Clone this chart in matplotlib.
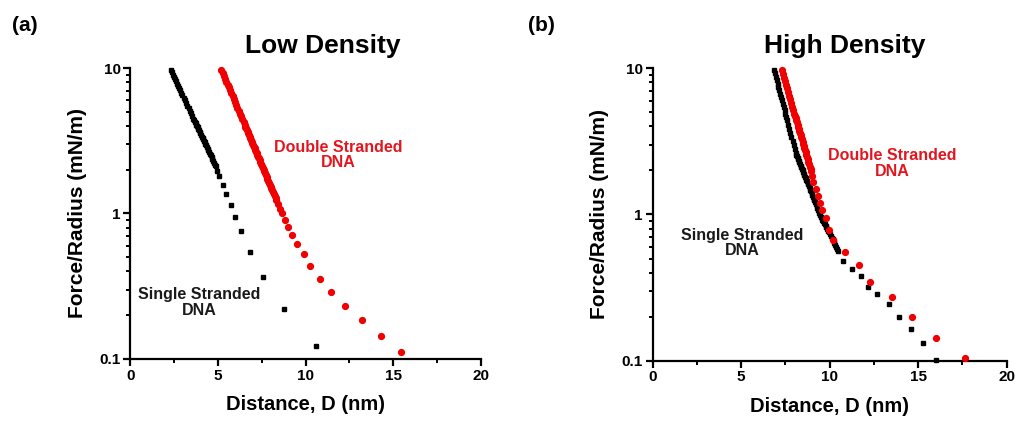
import matplotlib
matplotlib.use("Agg")
import matplotlib.pyplot as plt
from matplotlib.ticker import FixedLocator, NullFormatter, LogLocator

plt.rcParams['font.family'] = ['Liberation Sans', 'DejaVu Sans']
plt.rcParams['font.weight'] = 'bold'

# ---------------- data ----------------
# Panel (a) Low Density
ss_low_x = [2.30, 2.36, 2.42, 2.48, 2.54, 2.60, 2.66, 2.72, 2.78, 2.84, 2.90, 2.97,
            3.04, 3.11, 3.18, 3.25, 3.32, 3.39, 3.46, 3.53, 3.60, 3.64, 3.68, 3.72,
            3.76, 3.80, 3.84, 3.88, 3.92, 3.96, 4.00, 4.04, 4.08, 4.12, 4.16, 4.20,
            4.24, 4.28, 4.32, 4.365, 4.41, 4.455, 4.50, 4.545, 4.59, 4.635, 4.68,
            4.73, 4.78, 4.83, 4.88, 4.96,
            5.05, 5.26, 5.47, 5.75, 6.00, 6.34, 6.85, 7.56, 8.77, 10.62]
ss_low_y = [9.66, 9.33, 9.00, 8.69, 8.39, 8.09, 7.81, 7.54, 7.28, 7.03, 6.78, 6.50,
            6.25, 6.00, 5.75, 5.52, 5.30, 5.08, 4.88, 4.68, 4.49, 4.38, 4.28, 4.18,
            4.08, 3.99, 3.90, 3.81, 3.72, 3.63, 3.55, 3.46, 3.38, 3.30, 3.23, 3.15,
            3.08, 3.01, 2.94, 2.86, 2.79, 2.72, 2.64, 2.58, 2.51, 2.44, 2.38,
            2.31, 2.24, 2.17, 2.11, 1.96,
            1.82, 1.58, 1.37, 1.15, 0.95, 0.76, 0.544, 0.366, 0.221, 0.122]

ds_low_x = [5.20, 5.27, 5.34, 5.41, 5.48, 5.55, 5.62, 5.69, 5.76, 5.83, 5.90, 5.97,
            6.04, 6.11, 6.18, 6.25, 6.32, 6.39, 6.46, 6.53, 6.57, 6.61, 6.65, 6.69,
            6.73, 6.77, 6.81, 6.85, 6.89, 6.93, 6.97, 7.01, 7.05, 7.09, 7.13, 7.17,
            7.21, 7.25, 7.29, 7.33, 7.375, 7.42, 7.465, 7.51, 7.555, 7.60, 7.645,
            7.69, 7.735, 7.78, 7.825, 7.87, 7.915, 7.96, 8.005, 8.05, 8.095, 8.14,
            8.19, 8.24, 8.29, 8.34, 8.44, 8.54, 8.64,
            8.84, 9.00, 9.22, 9.53, 9.91, 10.24, 10.81, 11.43, 12.25, 13.24, 14.30, 15.46]
ds_low_y = [9.68, 9.25, 8.83, 8.43, 8.05, 7.69, 7.35, 7.02, 6.70, 6.40, 6.12, 5.85,
            5.58, 5.33, 5.09, 4.86, 4.65, 4.44, 4.24, 4.05, 3.94, 3.84, 3.74, 3.64,
            3.55, 3.46, 3.37, 3.28, 3.20, 3.11, 3.03, 2.95, 2.87, 2.80, 2.73, 2.66,
            2.59, 2.52, 2.45, 2.39, 2.32, 2.26, 2.19, 2.13, 2.07, 2.00, 1.95,
            1.89, 1.84, 1.78, 1.73, 1.68, 1.63, 1.58, 1.53, 1.49, 1.45, 1.41,
            1.36, 1.32, 1.27, 1.23, 1.16, 1.08, 1.01,
            0.90, 0.81, 0.71, 0.615, 0.53, 0.434, 0.356, 0.288, 0.230, 0.184, 0.143, 0.111]

# Panel (b) High Density
ss_high_x = [6.85, 6.90, 6.95, 7.00, 7.05, 7.10, 7.15, 7.20, 7.25, 7.30, 7.35, 7.40,
             7.45, 7.50, 7.55, 7.60, 7.66, 7.72, 7.78, 7.84, 7.90, 7.96, 8.02, 8.08,
             8.115, 8.15, 8.185, 8.22, 8.255, 8.29, 8.325, 8.36, 8.395, 8.43, 8.465,
             8.50, 8.535, 8.57, 8.605, 8.64, 8.675, 8.71, 8.745, 8.78, 8.82, 8.86,
             8.90, 8.94, 8.98, 9.02, 9.06, 9.10, 9.14, 9.18, 9.22, 9.26, 9.30, 9.34,
             9.38, 9.42, 9.46, 9.50, 9.545, 9.59, 9.635, 9.68, 9.725, 9.77, 9.815,
             9.86, 9.91, 9.96, 10.01, 10.06, 10.11, 10.16, 10.215, 10.27, 10.325,
             10.38, 10.435, 10.49,
             10.77, 11.28, 11.77, 12.18, 12.69, 13.37, 13.93, 14.59, 15.29, 16.00]
ss_high_y = [9.73, 9.23, 8.75, 8.30, 7.87, 7.46, 7.08, 6.71, 6.37, 6.04, 5.73, 5.43,
             5.15, 4.89, 4.63, 4.40, 4.12, 3.87, 3.63, 3.39, 3.18, 2.99, 2.81, 2.63,
             2.57, 2.51, 2.44, 2.38, 2.32, 2.27, 2.21, 2.16, 2.11, 2.06, 2.00,
             1.95, 1.90, 1.86, 1.81, 1.77, 1.73, 1.69, 1.65, 1.61, 1.56, 1.52,
             1.48, 1.44, 1.40, 1.36, 1.32, 1.28, 1.25, 1.21, 1.18, 1.15, 1.11, 1.08,
             1.05, 1.02, 0.993, 0.966, 0.943, 0.920, 0.898, 0.877, 0.856, 0.835, 0.815,
             0.796, 0.775, 0.754, 0.733, 0.713, 0.694, 0.676, 0.656, 0.637, 0.618,
             0.600, 0.582, 0.565,
             0.483, 0.426, 0.380, 0.320, 0.284, 0.243, 0.200, 0.165, 0.133, 0.101]

ds_high_x = [7.29, 7.35, 7.41, 7.47, 7.53, 7.59, 7.65, 7.71, 7.77, 7.83, 7.89, 7.95,
             8.01, 8.045, 8.08, 8.115, 8.15, 8.185, 8.22, 8.255, 8.29, 8.325, 8.36,
             8.395, 8.43, 8.465, 8.50, 8.535, 8.57, 8.605, 8.64, 8.68, 8.72, 8.76,
             8.80, 8.84, 8.88, 8.92, 8.96, 9.015,
             9.07, 9.23, 9.36, 9.46, 9.55, 9.79, 9.98, 10.20, 10.86, 11.65, 12.30,
             13.50, 14.63, 16.00, 17.64]
ds_high_y = [9.73, 9.16, 8.65, 8.17, 7.71, 7.28, 6.87, 6.49, 6.12, 5.78, 5.46, 5.15,
             4.86, 4.70, 4.55, 4.40, 4.26, 4.12, 3.98, 3.85, 3.72, 3.60, 3.48,
             3.37, 3.26, 3.15, 3.05, 2.95, 2.85, 2.76, 2.67, 2.57, 2.47, 2.38,
             2.29, 2.20, 2.12, 2.04, 1.97, 1.82,
             1.68, 1.49, 1.33, 1.19, 1.07, 0.94, 0.78, 0.67, 0.555, 0.450, 0.345,
             0.274, 0.200, 0.143, 0.104]

x_ticks = [0, 5, 10, 15, 20]
y_ticks = [0.1, 1, 10]
y_ticklabels = ["0.1", "1", "10"]
titles = ["Low Density", "High Density"]
panel_labels = ["(a)", "(b)"]
xlabel = "Distance, D (nm)"
ylabel = "Force/Radius (mN/m)"
ds_text = "Double Stranded\nDNA"
ss_text = "Single Stranded\nDNA"

RED = '#f00000'
RED_TXT = '#e3161f'
BLK = '#000000'

fig = plt.figure(figsize=(10.17, 4.25), dpi=100)
fig.patch.set_facecolor('white')

axA = fig.add_axes([0.1283, 0.1553, 0.3442, 0.6847])
axB = fig.add_axes([0.6418, 0.1513, 0.3481, 0.6880])


def style(ax):
    ax.set_yscale('log')
    ax.set_xlim(0, 20)
    ax.set_ylim(0.1, 10)
    for s in ['top', 'right']:
        ax.spines[s].set_visible(False)
    for s in ['left', 'bottom']:
        ax.spines[s].set_linewidth(1.6)
    ax.xaxis.set_major_locator(FixedLocator(x_ticks))
    ax.xaxis.set_minor_locator(FixedLocator([2.5, 7.5, 12.5, 17.5]))
    ax.yaxis.set_major_locator(FixedLocator(y_ticks))
    ax.set_yticklabels(y_ticklabels)
    ax.yaxis.set_minor_locator(LogLocator(base=10, subs=(2, 3, 4, 5, 6, 7, 8, 9)))
    ax.yaxis.set_minor_formatter(NullFormatter())
    ax.tick_params(which='major', direction='out', length=5, width=1.6,
                   labelsize=11, pad=2)
    ax.tick_params(which='minor', direction='out', length=3, width=1.4)
    for lab in ax.get_xticklabels() + ax.get_yticklabels():
        lab.set_fontweight('bold')
    ax.set_xlabel(xlabel, fontsize=14.5, fontweight='bold', labelpad=9)
    ax.set_ylabel(ylabel, fontsize=15, fontweight='bold', labelpad=9)


for ax in (axA, axB):
    style(ax)

MS_SQ = 3.5
MS_CI = 4.2

# Panel (a)
axA.plot(ss_low_x, ss_low_y, linestyle='none', marker='s', ms=MS_SQ,
         color=BLK, mec=BLK, clip_on=False, zorder=3)
axA.plot(ds_low_x, ds_low_y, linestyle='none', marker='o', ms=MS_CI,
         color=RED, mec=RED, clip_on=False, zorder=3)
axA.text(11.86, 2.53, ds_text, color=RED_TXT, fontsize=11.5, fontweight='bold',
         ha='center', va='center', linespacing=1.05)
axA.text(3.91, 0.245, ss_text, color='#1a1a1a', fontsize=11.5, fontweight='bold',
         ha='center', va='center', linespacing=1.05)

# Panel (b)
axB.plot(ss_high_x, ss_high_y, linestyle='none', marker='s', ms=MS_SQ,
         color=BLK, mec=BLK, clip_on=False, zorder=3)
axB.plot(ds_high_x, ds_high_y, linestyle='none', marker='o', ms=MS_CI,
         color=RED, mec=RED, clip_on=False, zorder=4)
axB.text(13.52, 2.23, ds_text, color=RED_TXT, fontsize=11.5, fontweight='bold',
         ha='center', va='center', linespacing=1.05)
axB.text(5.04, 0.64, ss_text, color='#1a1a1a', fontsize=11.5, fontweight='bold',
         ha='center', va='center', linespacing=1.05)

# Titles and panel labels
fig.text(323 / 1017, 1 - 53 / 425, titles[0], fontsize=19, fontweight='bold',
         ha='center', va='baseline')
fig.text(845 / 1017, 1 - 53 / 425, titles[1], fontsize=19, fontweight='bold',
         ha='center', va='baseline')
fig.text(12 / 1017, 1 - 16 / 425, panel_labels[0], fontsize=15, fontweight='bold',
         ha='left', va='top')
fig.text(528 / 1017, 1 - 16 / 425, panel_labels[1], fontsize=15, fontweight='bold',
         ha='left', va='top')

fig.savefig('out.png', dpi=100, facecolor='white')
